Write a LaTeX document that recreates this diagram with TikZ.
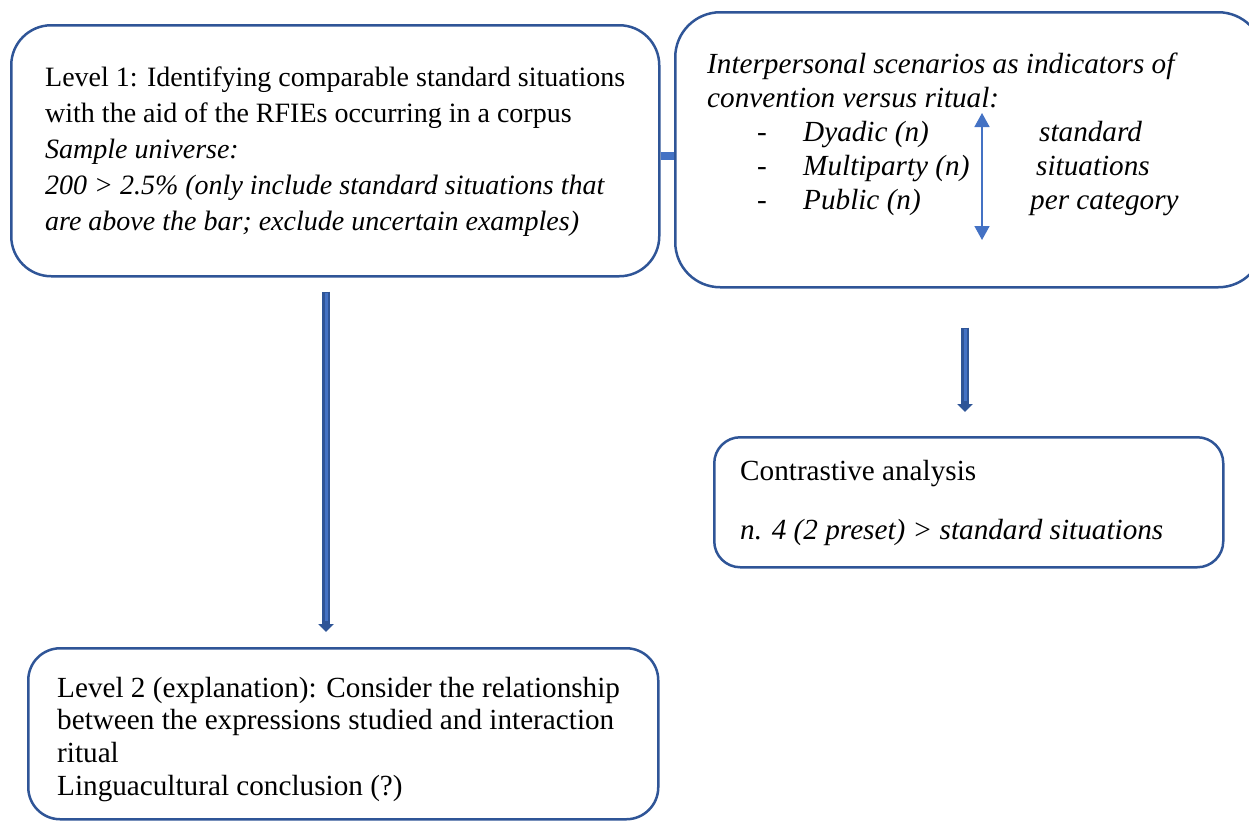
\documentclass[tikz,border=0pt]{standalone}
\usepackage{fontspec}
\setmainfont{Liberation Serif}
\usetikzlibrary{arrows.meta}

\definecolor{boxblue}{RGB}{47,85,151}
\definecolor{lightblue}{RGB}{68,114,196}

\tikzset{
  box/.style={draw=boxblue, line width=2.5pt, rounded corners=#1, inner sep=0pt,
              anchor=north west},
  txt/.style={anchor=base west, inner sep=0pt, font=\fontsize{28}{34}\selectfont},
  txtb/.style={anchor=base west, inner sep=0pt, font=\fontsize{29.2}{34}\selectfont},
  blockouter/.style={draw=boxblue, line width=7.5pt,
              -{Triangle[width=15pt,length=8pt]}},
  blockinner/.style={draw=lightblue, line width=3pt},
  link/.style={draw=lightblue, line width=8pt},
  dblarrow/.style={draw=lightblue, line width=1.6pt,
              {Triangle[width=15pt,length=14pt]}-{Triangle[width=15pt,length=14pt]}},
}

\begin{document}
\begin{tikzpicture}[x=1pt, y=-1pt]
  \useasboundingbox (0,0) rectangle (1249,820);
  \clip (0,0) rectangle (1249,820);

  % boxes
  \node[box=40pt, minimum width=648pt, minimum height=251pt] (b1) at (10,24) {};
  \node[box=45pt, minimum width=588pt, minimum height=275pt] (b2) at (674,11) {};
  \node[box=26pt, minimum width=509pt, minimum height=130pt] (b3) at (713,436) {};
  \node[box=32pt, minimum width=630pt, minimum height=171pt] (b4) at (27,647) {};

  % short link between the two upper boxes
  \coordinate (linky) at (0,156);
  \draw[link] (b1.east |- linky) -- (b2.west |- linky);

  % block arrows
  \coordinate (ax1) at (326,0);
  \coordinate (ax2) at (965,0);
  \draw[blockouter, shorten <=14pt, shorten >=15pt] (b1.south -| ax1) -- (b4.north -| ax1);
  \draw[blockinner, shorten <=15pt, shorten >=26pt] (b1.south -| ax1) -- (b4.north -| ax1);
  \draw[blockouter, shorten <=39pt, shorten >=24pt] (b2.south -| ax2) -- (b3.north -| ax2);
  \draw[blockinner, shorten <=40pt, shorten >=35pt] (b2.south -| ax2) -- (b3.north -| ax2);

  % text of box 1
  \node[txt] (t11) at (45,86) {Level 1: Identifying comparable standard situations};
  \node[txt] (t12) at (45,122) {with the aid of the RFIEs occurring in a corpus};
  \node[txt] (t13) at (45,158) {\itshape Sample universe:};
  \node[txt] (t14) at (45,194) {\itshape 200 > 2.5\% (only include standard situations that};
  \node[txt] (t15) at (45,230) {\itshape are above the bar; exclude uncertain examples)};

  % text of box 2
  \node[txtb] (t21) at (707,73) {\itshape Interpersonal scenarios as indicators of};
  \node[txtb] (t22) at (707,107) {\itshape convention versus ritual:};
  \node[txtb] (d1) at (757,141) {-};
  \node[txtb] (d2) at (757,175) {-};
  \node[txtb] (d3) at (757,209) {-};
  \node[txtb] (t23) at (803,141) {\itshape Dyadic (n)};
  \node[txtb] (t24) at (803,175) {\itshape Multiparty (n)};
  \node[txtb] (t25) at (803,209) {\itshape Public (n)};
  \node[txtb] (t26) at (1039,141) {\itshape standard};
  \node[txtb] (t27) at (1036,175) {\itshape situations};
  \node[txtb] (t28) at (1030,209) {\itshape per category};

  % double arrow beside the categories
  \coordinate (up) at (982,113);
  \coordinate (down) at (982,240);
  \draw[dblarrow] (up) -- (down);

  % text of box 3
  \node[txtb] (t31) at (740,480) {Contrastive analysis};
  \node[txtb] (t32) at (740,539) {\itshape n. 4 (2 preset) > standard situations};

  % text of box 4
  \node[txtb] (t41) at (57,697) {Level 2 (explanation): Consider the relationship};
  \node[txtb] (t42) at (57,729) {between the expressions studied and interaction};
  \node[txtb] (t43) at (57,762) {ritual};
  \node[txtb] (t44) at (57,795) {Linguacultural conclusion (?)};
\end{tikzpicture}
\end{document}
